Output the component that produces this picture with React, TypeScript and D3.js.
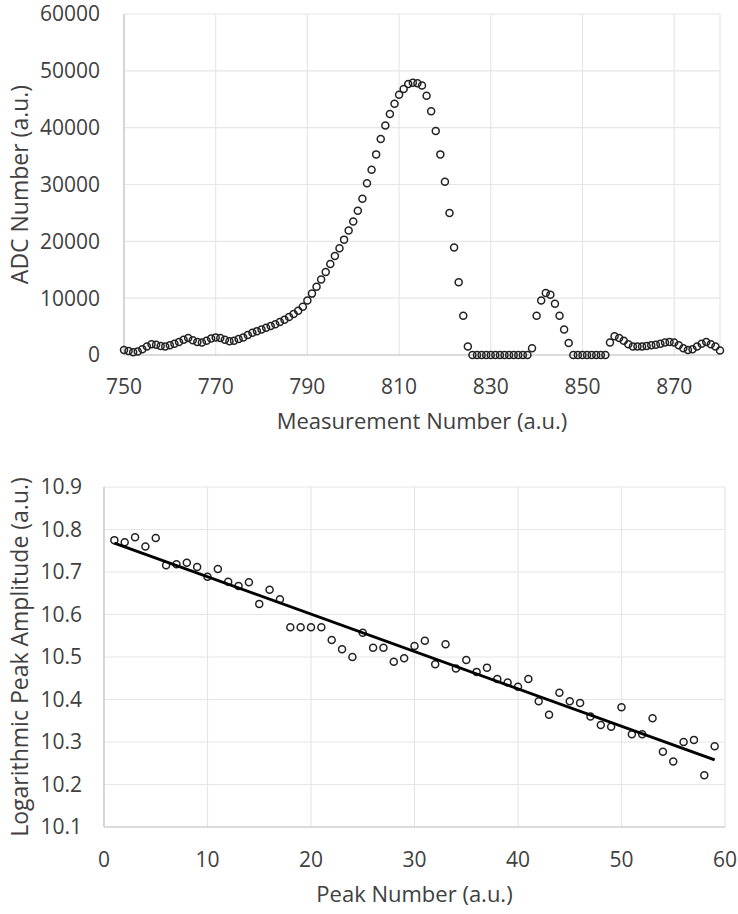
import * as d3 from "d3";

// top chart: raw ADC trace, one reading per measurement
const measurementNumbers = d3.range(750, 881);
const adcValues = [
  900, 700, 500, 600, 1000, 1500, 1900, 1800, 1600, 1500,
  1700, 2000, 2300, 2700, 3000, 2600, 2300, 2200, 2500, 2900,
  3100, 3000, 2700, 2400, 2500, 2800, 3100, 3500, 3900, 4200,
  4500, 4800, 5100, 5400, 5800, 6200, 6700, 7200, 7800, 8500,
  9600, 10800, 12000, 13300, 14600, 16000, 17400, 18800, 20300, 21900,
  23500, 25400, 27500, 30200, 32600, 35300, 38000, 40400, 42400, 44200,
  45800, 46800, 47700, 47900, 47800, 47400, 45600, 42900, 39400, 35300,
  30500, 25000, 18900, 12800, 6900, 1500,
  0, 0, 0, 0, 0, 0, 0, 0, 0, 0, 0, 0, 0,
  1200, 6900, 9600, 10900, 10600, 9000, 6900, 4500, 2100,
  0, 0, 0, 0, 0, 0, 0, 0,
  2200, 3300, 3000, 2500, 1900, 1500, 1500, 1500, 1600, 1700,
  1800, 2000, 2200, 2300, 2200, 1700, 1200, 900, 1000, 1500,
  2000, 2300, 1900, 1500, 800,
];
const adcTicks = [0, 10000, 20000, 30000, 40000, 50000, 60000];
const measurementTicks = [750, 770, 790, 810, 830, 850, 870];

// bottom chart: log of each peak amplitude
const peakNumbers = d3.range(1, 60);
const logAmplitudes = [
  10.775, 10.77, 10.782, 10.76, 10.78, 10.716, 10.718, 10.722, 10.712, 10.689,
  10.707, 10.677, 10.667, 10.676, 10.625, 10.658, 10.636, 10.57, 10.57, 10.57,
  10.57, 10.54, 10.518, 10.50, 10.557, 10.522, 10.522, 10.489, 10.497, 10.526,
  10.538, 10.483, 10.53, 10.473, 10.493, 10.465, 10.475, 10.448, 10.44, 10.43,
  10.448, 10.396, 10.364, 10.416, 10.396, 10.392, 10.36, 10.34, 10.336, 10.382,
  10.318, 10.318, 10.356, 10.277, 10.254, 10.30, 10.305, 10.222, 10.29,
];
const ampTicks = [10.1, 10.2, 10.3, 10.4, 10.5, 10.6, 10.7, 10.8, 10.9];
const peakTicks = [0, 10, 20, 30, 40, 50, 60];

const FONT = "'Open Sans', sans-serif";
const TEXT = "#404040";
const GRID = "#e6e6e6";
const AXIS = "#c4c4c4";

export default function App() {
  // ---- top chart
  const x1 = d3.scaleLinear().domain([750, 880]).range([124, 720]);
  const y1 = d3.scaleLinear().domain([0, 60000]).range([355, 14]);

  // ---- bottom chart
  const x2 = d3.scaleLinear().domain([0, 60]).range([104, 725]);
  const y2 = d3.scaleLinear().domain([10.1, 10.9]).range([827, 487]);

  // least squares trend line
  const mx = d3.mean(peakNumbers)!;
  const my = d3.mean(logAmplitudes)!;
  let sxy = 0, sxx = 0;
  peakNumbers.forEach((n, i) => {
    sxy += (n - mx) * (logAmplitudes[i] - my);
    sxx += (n - mx) * (n - mx);
  });
  const slope = sxy / sxx;
  const icept = my - slope * mx;
  const n0 = peakNumbers[0], n1 = peakNumbers[peakNumbers.length - 1];
  const trend = d3.line<number>().x((n) => x2(n)).y((n) => y2(icept + slope * n))([n0, n1]);

  return (
    <div style={{ position: "absolute", left: 0, top: 0 }}>
      <svg width={738} height={914} style={{ display: "block", background: "#fff" }}>
        {/* top chart grid */}
        <g>
          {adcTicks.map((t) => (
            <line key={"ty" + t} x1={x1(750)} x2={x1(880)} y1={y1(t)} y2={y1(t)} stroke={GRID} strokeWidth={1.2} />
          ))}
          {measurementTicks.concat([880]).map((t) => (
            <line key={"tx" + t} x1={x1(t)} x2={x1(t)} y1={y1(0)} y2={y1(60000)} stroke={GRID} strokeWidth={1.2} />
          ))}
          <line x1={x1(750)} x2={x1(750)} y1={y1(0)} y2={y1(60000)} stroke={AXIS} strokeWidth={1.2} />
          <line x1={x1(750)} x2={x1(880)} y1={y1(0)} y2={y1(0)} stroke={AXIS} strokeWidth={1.2} />
        </g>
        <g fontFamily={FONT} fontSize={21} fill={TEXT}>
          {adcTicks.map((t) => (
            <text key={"tyl" + t} x={100} y={y1(t)} dy="0.35em" textAnchor="end">{t}</text>
          ))}
          {measurementTicks.map((t) => (
            <text key={"txl" + t} x={x1(t)} y={y1(0) + 32} dy="0.35em" textAnchor="middle">{t}</text>
          ))}
          <text x={(x1(750) + x1(880)) / 2} y={y1(0) + 66} dy="0.35em" textAnchor="middle" fontSize={22}>
            Measurement Number (a.u.)
          </text>
          <text transform={`translate(20,${(y1(0) + y1(60000)) / 2}) rotate(-90)`} dy="0.35em" textAnchor="middle" fontSize={23}>
            ADC Number (a.u.)
          </text>
        </g>
        <g fill="none" stroke="#222" strokeWidth={1.5}>
          {measurementNumbers.map((m, i) => (
            <circle key={"p" + m} cx={x1(m)} cy={y1(adcValues[i])} r={3.5} />
          ))}
        </g>

        {/* bottom chart grid */}
        <g>
          {ampTicks.map((t) => (
            <line key={"by" + t} x1={x2(0)} x2={x2(60)} y1={y2(t)} y2={y2(t)} stroke={GRID} strokeWidth={1.2} />
          ))}
          {peakTicks.map((t) => (
            <line key={"bx" + t} x1={x2(t)} x2={x2(t)} y1={y2(10.1)} y2={y2(10.9)} stroke={GRID} strokeWidth={1.2} />
          ))}
          <line x1={x2(0)} x2={x2(0)} y1={y2(10.1)} y2={y2(10.9)} stroke={AXIS} strokeWidth={1.2} />
          <line x1={x2(0)} x2={x2(60)} y1={y2(10.1)} y2={y2(10.1)} stroke={AXIS} strokeWidth={1.2} />
        </g>
        <g fontFamily={FONT} fontSize={21} fill={TEXT}>
          {ampTicks.map((t) => (
            <text key={"byl" + t} x={82} y={y2(t)} dy="0.35em" textAnchor="end">{d3.format(".1f")(t)}</text>
          ))}
          {peakTicks.map((t) => (
            <text key={"bxl" + t} x={x2(t)} y={y2(10.1) + 33} dy="0.35em" textAnchor="middle">{t}</text>
          ))}
          <text x={(x2(0) + x2(60)) / 2} y={y2(10.1) + 67} dy="0.35em" textAnchor="middle" fontSize={22}>
            Peak Number (a.u.)
          </text>
          <text transform={`translate(20,${(y2(10.1) + y2(10.9)) / 2}) rotate(-90)`} dy="0.35em" textAnchor="middle" fontSize={23}>
            Logarithmic Peak Amplitude (a.u.)
          </text>
        </g>
        <g fill="none" stroke="#222" strokeWidth={1.5}>
          {peakNumbers.map((n, i) => (
            <circle key={"q" + n} cx={x2(n)} cy={y2(logAmplitudes[i])} r={3.5} />
          ))}
        </g>
        <path d={trend ?? ""} fill="none" stroke="#000" strokeWidth={3} />
      </svg>
    </div>
  );
}
